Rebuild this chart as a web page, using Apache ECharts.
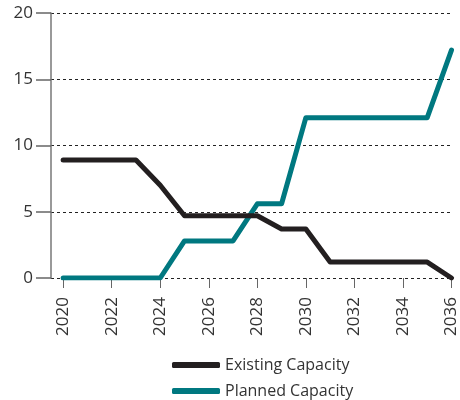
<!DOCTYPE html>
<html>
<head>
<meta charset="utf-8">
<script src="https://cdn.jsdelivr.net/npm/echarts@6/dist/echarts.min.js"></script>
<style>
  html, body { margin: 0; padding: 0; background: #fff; }
  #chart { width: 460px; height: 400px; }
</style>
</head>
<body>
<div id="chart"></div>
<script>
// data
const years = [2020, 2021, 2022, 2023, 2024, 2025, 2026, 2027, 2028, 2029, 2030, 2031, 2032, 2033, 2034, 2035, 2036];
const existing = [8.9, 8.9, 8.9, 8.9, 7.0, 4.7, 4.7, 4.7, 4.7, 3.7, 3.7, 1.2, 1.2, 1.2, 1.2, 1.2, 0];
const planned = [0, 0, 0, 0, 0, 2.8, 2.8, 2.8, 5.6, 5.6, 12.1, 12.1, 12.1, 12.1, 12.1, 12.1, 17.2];
const yearTicks = [2020, 2022, 2024, 2026, 2028, 2030, 2032, 2034, 2036];

const FONT = 'Open Sans';
const BLACK = '#231f20';
const TEAL = '#007880';
const zip = (xs, ys) => xs.map((x, i) => [x, ys[i]]);

const chart = echarts.init(document.getElementById('chart'));

// one legend per row, stacked
const legendRow = (name, top) => ({
  left: 167,
  top: top,
  itemWidth: 48,
  itemHeight: 6,
  itemGap: 0,
  textStyle: { fontSize: 16, color: '#333', fontFamily: FONT },
  data: [{ name: name, icon: 'roundRect' }]
});

const option = {
  animation: false,
  textStyle: { fontFamily: FONT },
  grid: { left: 51, right: 4, top: 13, bottom: 122 },
  xAxis: {
    type: 'value',
    min: 2019.5,
    max: 2036,
    axisLine: { show: false },
    axisTick: {
      show: true,
      length: 10,
      customValues: yearTicks,
      lineStyle: { color: '#666', width: 1 }
    },
    axisLabel: {
      customValues: yearTicks,
      rotate: 90,
      margin: 19,
      fontSize: 17,
      color: '#333',
      fontFamily: FONT,
      formatter: v => String(v)
    },
    splitLine: { show: false }
  },
  yAxis: {
    type: 'value',
    min: 0,
    max: 20,
    interval: 5,
    axisLine: { show: true, lineStyle: { color: '#777', width: 1.5 } },
    axisTick: { show: true, length: 15, lineStyle: { color: '#666', width: 1.5 } },
    axisLabel: { margin: 18, fontSize: 17, color: '#333', fontFamily: FONT },
    splitLine: { show: true, lineStyle: { color: '#222', width: 1, type: [3, 3] } }
  },
  legend: [
    legendRow('Existing Capacity', 352),
    legendRow('Planned Capacity', 378)
  ],
  series: [
    {
      name: 'Existing Capacity',
      type: 'line',
      data: zip(years, existing),
      showSymbol: false,
      color: BLACK,
      lineStyle: { width: 5, color: BLACK, cap: 'round', join: 'round' },
      z: 3
    },
    {
      name: 'Planned Capacity',
      type: 'line',
      data: zip(years, planned),
      showSymbol: false,
      color: TEAL,
      lineStyle: { width: 5, color: TEAL, cap: 'round', join: 'round' },
      z: 2
    }
  ]
};

chart.setOption(option);
</script>
</body>
</html>
